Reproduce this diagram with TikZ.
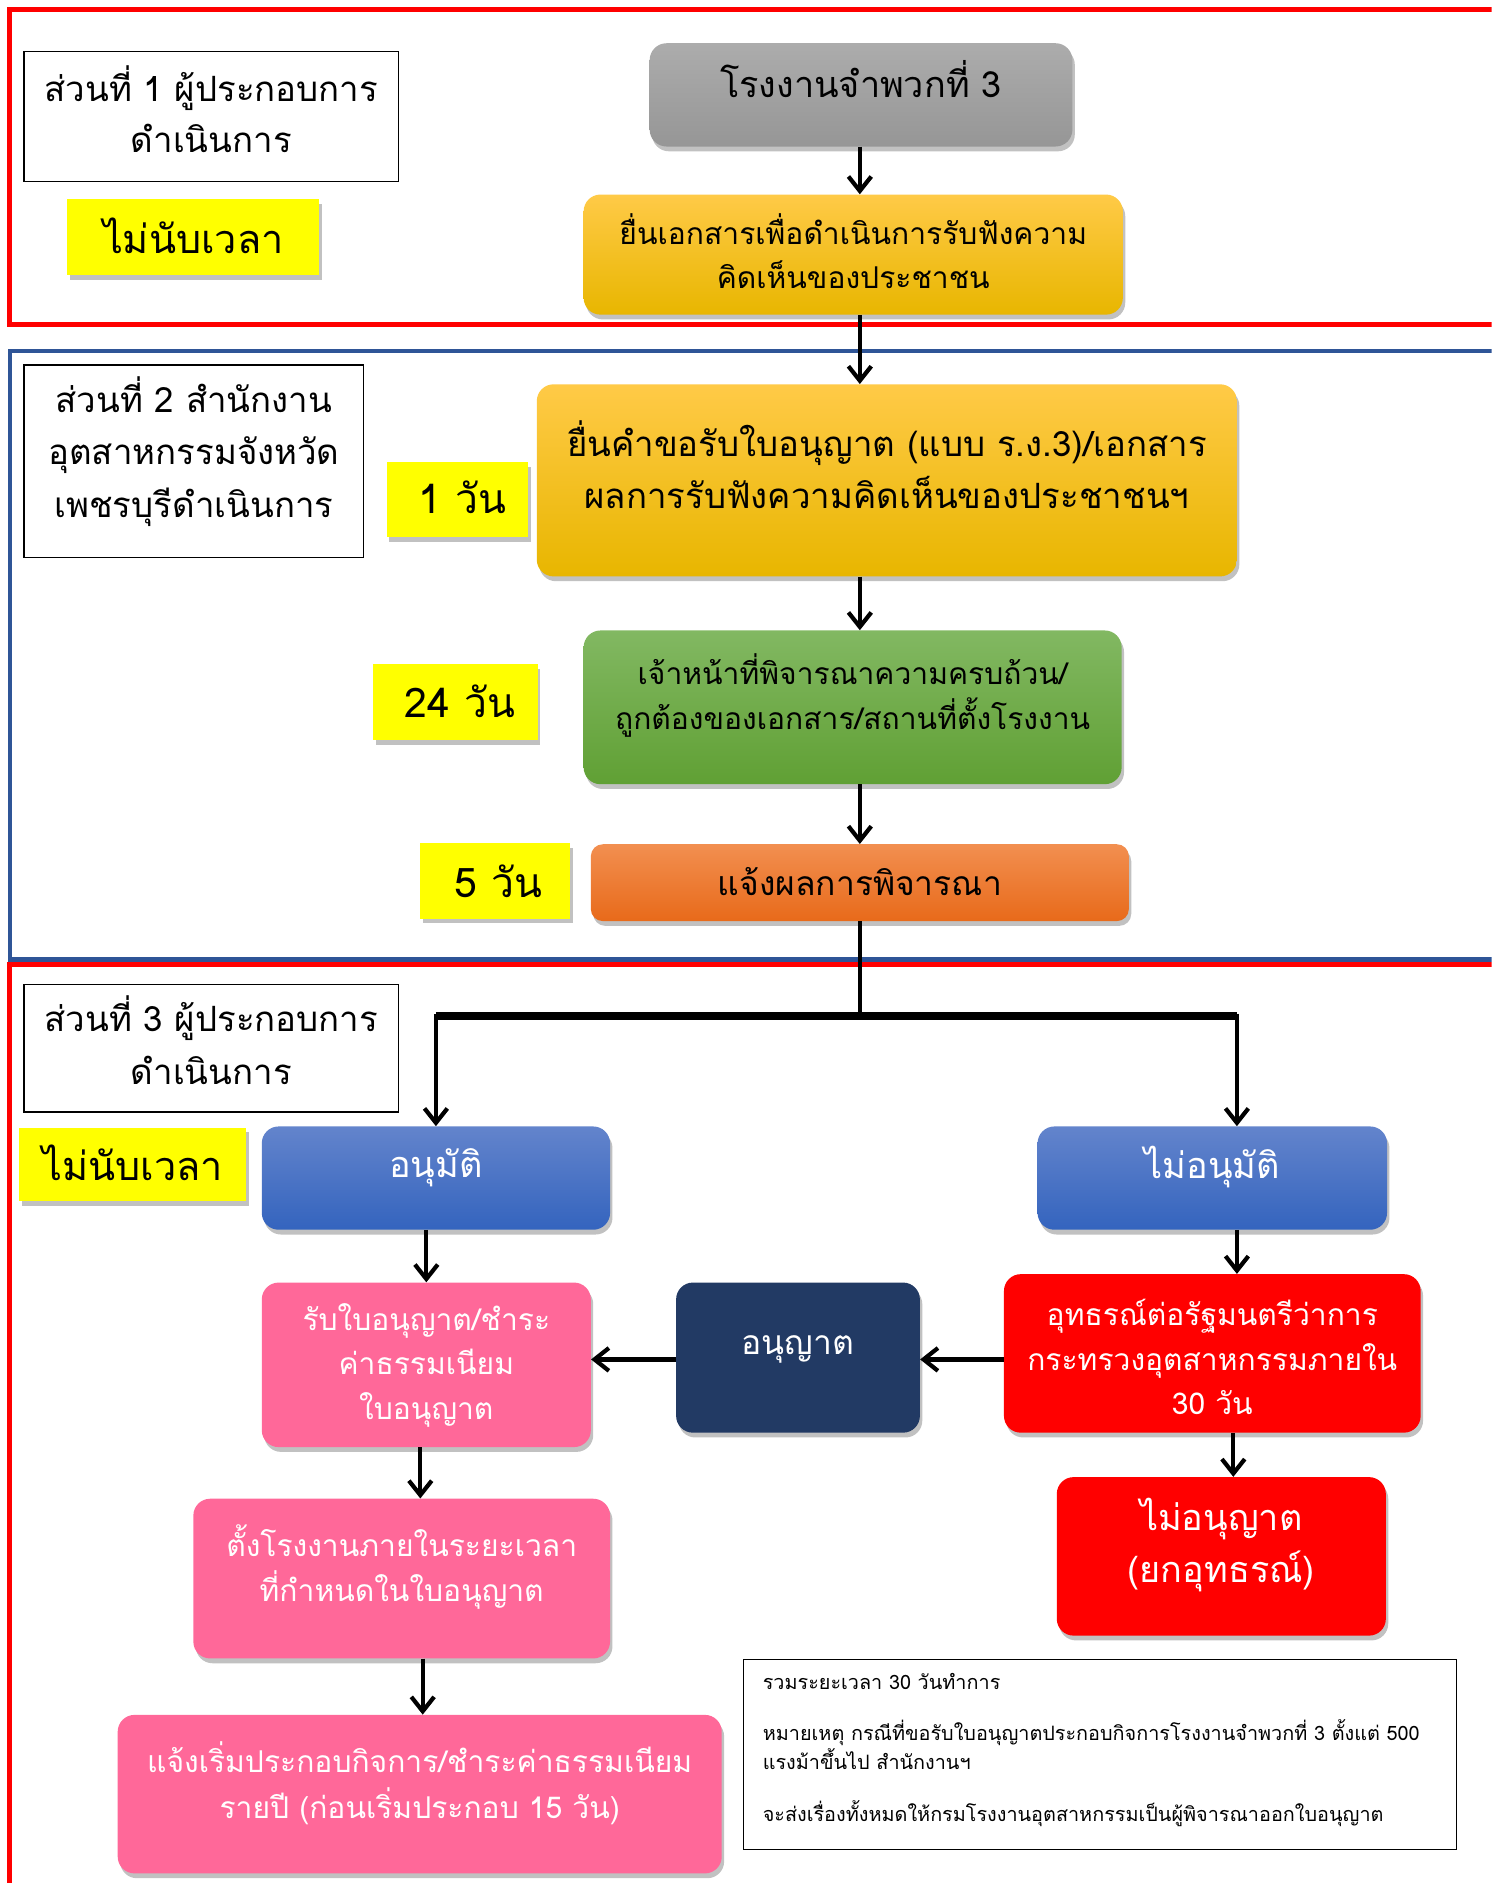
\documentclass[tikz,border=0pt]{standalone}
\usepackage{fontspec}
\newfontfamily\thai[Script=Thai]{Loma}
\usetikzlibrary{shadows,arrows.meta,calc}
\definecolor{frred}{RGB}{255,0,0}
\definecolor{frblue}{RGB}{47,85,151}
\definecolor{navyc}{RGB}{34,58,100}
\definecolor{pinkc}{RGB}{255,104,153}
\definecolor{redc}{RGB}{255,0,0}
\definecolor{yelc}{RGB}{255,255,0}
\tikzset{
  fs/.style n args={2}{font=\thai\fontsize{#1}{#2}\selectfont},
  shad/.style={drop shadow={shadow xshift=2pt,shadow yshift=-4pt,opacity=0.35,fill=black!70}},
  rbox/.style={rounded corners=14pt,draw=none,inner sep=0pt,shad},
  labbox/.style={draw=black,line width=1pt,fill=white,inner sep=0pt},
  yelbox/.style={fill=yelc,draw=none,inner sep=0pt,shad},
  grayfill/.style={top color={rgb,255:red,172;green,172;blue,172},bottom color={rgb,255:red,150;green,150;blue,150}},
  goldfill/.style={top color={rgb,255:red,255;green,202;blue,71},middle color={rgb,255:red,255;green,192;blue,0},bottom color={rgb,255:red,232;green,182;blue,0}},
  greenfill/.style={top color={rgb,255:red,130;green,184;blue,98},bottom color={rgb,255:red,96;green,160;blue,52}},
  orangefill/.style={top color={rgb,255:red,242;green,143;blue,80},bottom color={rgb,255:red,232;green,106;blue,26}},
  bluefill/.style={top color={rgb,255:red,99;green,132;blue,204},bottom color={rgb,255:red,52;green,100;blue,190}},
  txt/.style={align=center,inner sep=0pt},
  wtxt/.style={align=center,inner sep=0pt,text=white},
  arr/.style={line width=3.5pt,-{Straight Barb[length=12pt,width=19pt]}},
  conn/.style={line width=3.5pt},
}
\begin{document}
\begin{tikzpicture}[x=1pt,y=-1pt]
\useasboundingbox (0,0) rectangle (1242,1568);
\clip (0,0) rectangle (1242,1568);
% section frames
\draw[frred,line width=4pt] (8,8) rectangle (1280,270);
\draw[frblue,line width=3.5pt] (8,292) rectangle (1280,799);
\draw[frred,line width=4pt] (8,803) rectangle (1280,1620);
\coordinate (col) at (716,0);
\coordinate (colR) at (1030,0);
% section 1
\node[labbox,minimum width=312pt,minimum height=108pt] (lab1) at (176,97) {};
\node[txt,fs={29}{43}] (lab1t) at (176,91) {ส่วนที่ 1 ผู้ประกอบการ\\ดำเนินการ};
\node[yelbox,minimum width=210pt,minimum height=63pt] (yel1) at (161,197.5) {};
\node[txt,fs={33}{43}] (yel1t) at (161,196) {ไม่นับเวลา};
\node[rbox,grayfill,minimum width=352pt,minimum height=86pt] (gray) at (717,79) {};
\node[txt,fs={30}{43}] (grayt) at (717,66) {โรงงานจำพวกที่ 3};
\node[rbox,goldfill,minimum width=449pt,minimum height=100pt] (or1) at (710.5,212) {};
\node[txt,fs={25}{37}] (or1t) at (710.5,209) {ยื่นเอกสารเพื่อดำเนินการรับฟังความ\\คิดเห็นของประชาชน};
% section 2
\node[labbox,minimum width=283pt,minimum height=160pt] (lab2) at (161.5,384) {};
\node[txt,fs={29}{44}] (lab2t) at (161.5,376) {ส่วนที่ 2 สำนักงาน\\อุตสาหกรรมจังหวัด\\เพชรบุรีดำเนินการ};
\node[yelbox,minimum width=118pt,minimum height=62pt] (yel2) at (381,416) {};
\node[txt,fs={34}{43}] (yel2t) at (385,414) {1 วัน};
\node[rbox,goldfill,minimum width=583pt,minimum height=160pt] (or2) at (738.5,400) {};
\node[txt,fs={29}{43}] (or2t) at (738.5,387) {ยื่นคำขอรับใบอนุญาต (แบบ ร.ง.3)/เอกสาร\\ผลการรับฟังความคิดเห็นของประชาชนฯ};
\node[yelbox,minimum width=137pt,minimum height=63pt] (yel3) at (379.5,584.5) {};
\node[txt,fs={34}{43}] (yel3t) at (383,584) {24 วัน};
\node[rbox,greenfill,minimum width=448pt,minimum height=128pt] (green) at (710,589) {};
\node[txt,fs={25}{38}] (greent) at (710,579) {เจ้าหน้าที่พิจารณาความครบถ้วน/\\ถูกต้องของเอกสาร/สถานที่ตั้งโรงงาน};
\node[yelbox,minimum width=125pt,minimum height=63pt] (yel4) at (412.5,733.5) {};
\node[txt,fs={34}{43}] (yel4t) at (415,734) {5 วัน};
\node[rbox,orangefill,rounded corners=10pt,minimum width=448pt,minimum height=64pt] (or3) at (716,735) {};
\node[txt,fs={28}{40}] (or3t) at (716,734) {แจ้งผลการพิจารณา};
% section 3
\node[labbox,minimum width=312pt,minimum height=106pt] (lab3) at (176,873) {};
\node[txt,fs={29}{44}] (lab3t) at (176,866) {ส่วนที่ 3 ผู้ประกอบการ\\ดำเนินการ};
\node[yelbox,minimum width=189pt,minimum height=61pt] (yel5) at (110.5,969.5) {};
\node[txt,fs={33}{43}] (yel5t) at (110.5,968) {ไม่นับเวลา};
\node[rbox,bluefill,minimum width=290pt,minimum height=86pt] (appr) at (363,981) {};
\node[wtxt,fs={30}{43}] (apprt) at (363,972) {อนุมัติ};
\node[rbox,bluefill,minimum width=291pt,minimum height=86pt] (rej) at (1009.5,981) {};
\node[wtxt,fs={30}{43}] (rejt) at (1009.5,972) {ไม่อนุมัติ};
\node[rbox,fill=pinkc,minimum width=274pt,minimum height=137pt] (pink1) at (355,1136.5) {};
\node[wtxt,fs={25}{37}] (pink1t) at (355,1137) {รับใบอนุญาต/ชำระ\\ค่าธรรมเนียม\\ใบอนุญาต};
\node[rbox,fill=navyc,minimum width=203pt,minimum height=125pt] (navy) at (664.5,1130.5) {};
\node[wtxt,fs={28}{40}] (navyt) at (664.5,1124) {อนุญาต};
\node[rbox,fill=redc,minimum width=347pt,minimum height=132pt] (red1) at (1009.5,1127) {};
\node[wtxt,fs={25}{37}] (red1t) at (1009.5,1130) {อุทธรณ์ต่อรัฐมนตรีว่าการ\\กระทรวงอุตสาหกรรมภายใน\\30 วัน};
\node[rbox,fill=redc,minimum width=274pt,minimum height=132pt] (red2) at (1017,1296) {};
\node[wtxt,fs={30}{43}] (red2t) at (1017,1286.5) {ไม่อนุญาต\\(ยกอุทธรณ์)};
\node[rbox,fill=pinkc,minimum width=347pt,minimum height=133pt] (pink2) at (334.5,1314.5) {};
\node[wtxt,fs={25}{38}] (pink2t) at (334.5,1305) {ตั้งโรงงานภายในระยะเวลา\\ที่กำหนดในใบอนุญาต};
\node[rbox,fill=pinkc,minimum width=503pt,minimum height=132pt] (pink3) at (349.5,1494) {};
\node[wtxt,fs={25}{38}] (pink3t) at (349.5,1485) {แจ้งเริ่มประกอบกิจการ/ชำระค่าธรรมเนียม\\รายปี (ก่อนเริ่มประกอบ 15 วัน)};
\node[draw=black,line width=1pt,minimum width=594pt,minimum height=158pt,inner sep=0pt] (note) at (916,1461) {};
\node[anchor=north west,align=left,inner sep=0pt,fs={16.5}{24}] (notet) at (635,1393) {รวมระยะเวลา 30 วันทำการ\\[19pt]หมายเหตุ กรณีที่ขอรับใบอนุญาตประกอบกิจการโรงงานจำพวกที่ 3 ตั้งแต่ 500\\แรงม้าขึ้นไป สำนักงานฯ\\[19pt]จะส่งเรื่องทั้งหมดให้กรมโรงงานอุตสาหกรรมเป็นผู้พิจารณาออกใบอนุญาต};
% connectors
\draw[arr] (gray.south -| col) -- (or1.north -| col);
\draw[arr] (or1.south -| col) -- (or2.north -| col);
\draw[arr] (or2.south -| col) -- (green.north -| col);
\draw[arr] (green.south -| col) -- (or3.north -| col);
\coordinate (split) at (716,846);
\coordinate (splitL) at (363,846);
\coordinate (splitR) at (1030,846);
\draw[conn] (or3.south -| col) -- (split);
\draw[line width=6pt] (splitL) -- (splitR);
\draw[arr] ([yshift=2pt]splitL) -- (appr.north);
\draw[arr] ([yshift=2pt]splitR) -- (rej.north -| colR);
\draw[arr] (appr.south -| pink1.north) -- (pink1.north);
\draw[arr] (rej.south -| colR) -- (red1.north -| colR);
\draw[arr] (red1.west |- 0,1132) -- (navy.east |- 0,1132);
\draw[arr] (navy.west |- 0,1132) -- (pink1.east |- 0,1132);
\draw[arr] (red1.south -| 1027,0) -- (red2.north -| 1027,0);
\draw[arr] (pink1.south -| 350,0) -- (pink2.north -| 350,0);
\draw[arr] (pink2.south -| 352,0) -- (pink3.north -| 352,0);
\end{tikzpicture}
\end{document}
